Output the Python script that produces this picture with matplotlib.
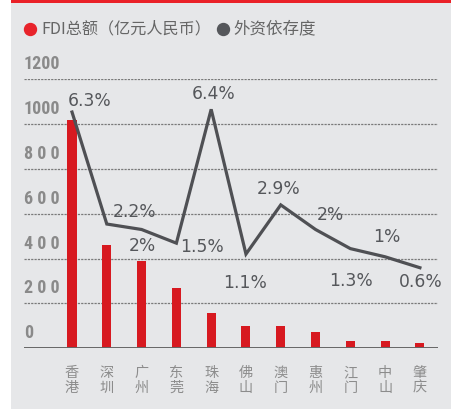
import matplotlib
matplotlib.use("Agg")
import matplotlib.pyplot as plt
import matplotlib.transforms as mtransforms
from matplotlib.patches import Rectangle
from matplotlib.lines import Line2D

# ---- data ----
cities = ["香港", "深圳", "广州", "东莞", "珠海", "佛山", "澳门", "惠州", "江门", "中山", "肇庆"]
fdi = [1016, 460, 390, 268, 156, 98, 98, 73, 33, 33, 24]
dependence = [6.3, 2.2, 2.0, 1.5, 6.4, 1.1, 2.9, 2.0, 1.3, 1.0, 0.6]
dependence_labels = ["6.3%", "2.2%", "2%", "1.5%", "6.4%", "1.1%", "2.9%", "2%", "1.3%", "1%", "0.6%"]
yticks = [0, 200, 400, 600, 800, 1000, 1200]
ytick_labels = ["0", "2 0 0", "4 0 0", "6 0 0", "8 0 0", "1000", "1200"]
legend_labels = ["FDI总额（亿元人民币）", "外资依存度"]

plt.rcParams['lines.scale_dashes'] = False
CJK = ['Noto Sans CJK SC', 'DejaVu Sans']
NUM = ['Roboto Condensed', 'Roboto', 'DejaVu Sans']

W, H = 452, 409
fig = plt.figure(figsize=(W / 100, H / 100), dpi=100, facecolor="white")

# background panel and top red strip
fig.add_artist(Rectangle((11 / W, 0), 1 - 11 / W, 1, transform=fig.transFigure,
                         facecolor="#e6e7e9", edgecolor="none", zorder=0))
fig.add_artist(Rectangle((11 / W, 1 - 2.5 / H), 1 - 11 / W, 2.5 / H, transform=fig.transFigure,
                         facecolor="#ea2128", edgecolor="none", zorder=1))

left, right = 24 / W, 438 / W
bottom, top = (H - 348.3) / H, (H - 79) / H
ax = fig.add_axes([left, bottom, right - left, top - bottom])
ax.set_facecolor("none")
for s in ax.spines.values():
    s.set_visible(False)

x = list(range(len(cities)))
ax.bar(x, fdi, width=0.26, color="#d71920", zorder=2)
ax.set_xlim(-1.38, 10.52)
ax.set_ylim(0, 1200)
ax.set_xticks([])
ax.set_yticks([])

# gridlines
for v in yticks[1:]:
    ax.axhline(v, color="#7a7a7a", lw=0.9, linestyle=(0, (1.6, 0.8)), zorder=1)
ax.axhline(0, color="#666666", lw=1.4, zorder=3)

# y tick labels (above the gridlines, left aligned)
ytrans = mtransforms.blended_transform_factory(ax.transAxes, ax.transData)
for v, lab in zip(yticks, ytick_labels):
    ax.text(0, v, lab, transform=ytrans + mtransforms.ScaledTranslation(0, 15 / 100, fig.dpi_scale_trans),
            ha="left", va="center", fontsize=13, fontweight="bold", color="#8a8a8a", family=NUM)

# category labels (vertical two-character)
xtrans = mtransforms.blended_transform_factory(ax.transData, ax.transAxes)
for i, c in zip(x, cities):
    ax.text(i, -0.119, "\n".join(c), transform=xtrans, ha="center", va="center",
            fontsize=10.2, color="#8c8c8c", family=CJK, linespacing=1.05)

# line on secondary axis
ax2 = ax.twinx()
ax2.set_ylim(-2.35, 7.51)
ax2.set_axis_off()
ax2.plot(x, dependence, color="#4f5054", lw=2.3, zorder=4, solid_joinstyle="miter")

offsets = [(18, 11), (28, 12), (1, -17), (26, -4), (2, 15), (-1, -29),
           (-2, 16), (15, 14), (1, -32), (2, 20), (1, -14)]
for i, v, lab, (dx, dy) in zip(x, dependence, dependence_labels, offsets):
    ax2.annotate(lab, (i, v), xytext=(dx, dy), textcoords="offset pixels",
                 ha="center", va="center", fontsize=12.3, color="#55575b",
                 family=['DejaVu Sans'])

# legend
fig.add_artist(Line2D([30 / W], [1 - 29 / H], marker="o", markersize=8.6, color="#e8232b",
                      linestyle="none", transform=fig.transFigure))
fig.text(41 / W, 1 - 29 / H, legend_labels[0], ha="left", va="center",
         fontsize=11.6, color="#666666", family=CJK)
fig.add_artist(Line2D([223 / W], [1 - 29 / H], marker="o", markersize=8.6, color="#55575b",
                      linestyle="none", transform=fig.transFigure))
fig.text(233 / W, 1 - 29 / H, legend_labels[1], ha="left", va="center",
         fontsize=11.9, color="#666666", family=CJK)

fig.savefig("out.png", dpi=100, facecolor="white")
